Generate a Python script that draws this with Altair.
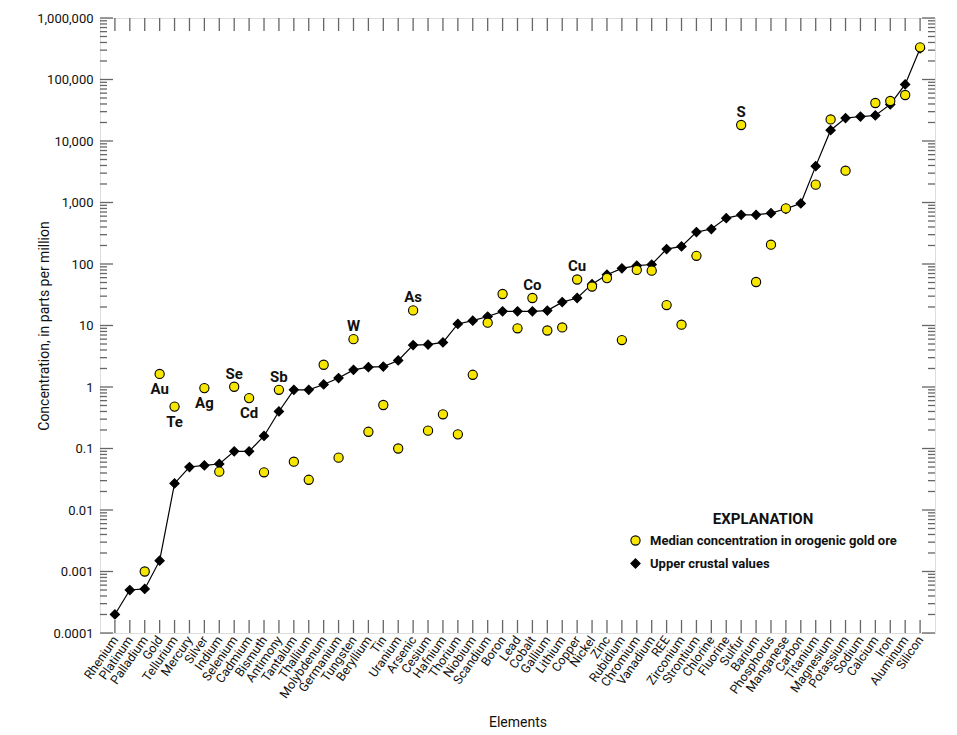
import altair as alt
import pandas as pd

elements = ["Rhenium", "Platinum", "Palladium", "Gold", "Tellurium", "Mercury", "Silver", "Indium",
            "Selenium", "Cadmium", "Bismuth", "Antimony", "Tantalum", "Thallium", "Molybdenum",
            "Germanium", "Tungsten", "Beryllium", "Tin", "Uranium", "Arsenic", "Cesium", "Hafnium",
            "Thorium", "Niobium", "Scandium", "Boron", "Lead", "Cobalt", "Gallium", "Lithium",
            "Copper", "Nickel", "Zinc", "Rubidium", "Chromium", "Vanadium", "REE", "Zirconium",
            "Strontium", "Chlorine", "Fluorine", "Sulfur", "Barium", "Phosphorus", "Manganese",
            "Carbon", "Titanium", "Magnesium", "Potassium", "Sodium", "Calcium", "Iron",
            "Aluminum", "Silicon"]

crust = [0.0002, 0.0005, 0.00052, 0.0015, 0.027, 0.05, 0.053, 0.056, 0.09, 0.09, 0.16, 0.4,
         0.9, 0.9, 1.1, 1.4, 1.9, 2.1, 2.15, 2.7, 4.8, 4.9, 5.3, 10.6, 12, 14, 17, 17, 17, 17.5,
         24, 28, 47, 67, 85, 94, 98, 175, 193, 330, 370, 557, 630, 630, 670, 790, 966, 3900,
         15000, 23600, 25000, 26000, 39400, 83000, 320000]

ore = [None, None, 0.001, 1.63, 0.48, None, 0.96, 0.042, 1.01, 0.66, 0.041, 0.9, 0.061, 0.031,
       2.3, 0.071, 6.0, 0.187, 0.51, 0.10, 17.6, 0.195, 0.36, 0.17, 1.58, 11.1, 32.5, 9.0, 28,
       8.3, 9.3, 56, 43, 59, 5.8, 80, 78, 21.5, 10.3, 136, None, None, 18200, 51, 206, 802,
       None, 1950, 22400, 3290, None, 41500, 44700, 56000, 333000]

label_elements = ["Gold", "Tellurium", "Silver", "Selenium", "Cadmium", "Antimony", "Tungsten",
                  "Arsenic", "Cobalt", "Copper", "Sulfur"]
label_texts = ["Au", "Te", "Ag", "Se", "Cd", "Sb", "W", "As", "Co", "Cu", "S"]
labels_below = ["Au", "Te", "Ag", "Cd"]

major_ticks = [0.0001, 0.001, 0.01, 0.1, 1, 10, 100, 1000, 10000, 100000, 1000000]
minor_ticks = [m * t for t in major_ticks[:-1] for m in range(2, 10)]

SER_ORE = "Median concentration in orogenic gold ore"
SER_CRUST = "Upper crustal values"

FONT = "Roboto, Liberation Sans, sans-serif"
YELLOW = "#F7E600"
AX = "#666666"

W, H = 835, 615

crust_df = pd.DataFrame({"Element": elements, "Value": crust, "Series": SER_CRUST})
ore_df = pd.DataFrame({"Element": elements, "Value": ore, "Series": SER_ORE}).dropna()
pts_df = pd.concat([crust_df, ore_df], ignore_index=True)

ore_map = dict(zip(elements, ore))
lab_df = pd.DataFrame({"Element": label_elements, "Label": label_texts,
                       "Value": [ore_map[e] for e in label_elements]})
lab_df["Below"] = lab_df["Label"].isin(labels_below)

xscale = alt.Scale(type="point", domain=elements, padding=1)
yscale = alt.Scale(type="log", domain=[0.0001, 1000000])

xenc = alt.X("Element:N", scale=xscale, sort=elements,
             axis=alt.Axis(title="Elements", ticks=False, domain=False, grid=False,
                           labelAngle=305, labelAlign="right", labelBaseline="middle",
                           labelPadding=4, labelFont=FONT, labelFontSize=12.5,
                           labelColor="#111", titleFont=FONT, titleFontSize=14,
                           titleFontWeight="normal", titleColor="#111",
                           titleY=89, titleX=W / 2, titleBaseline="middle"))
yenc = alt.Y("Value:Q", scale=yscale,
             axis=alt.Axis(title="Concentration, in parts per million", values=major_ticks,
                           labelExpr="datum.value >= 1 ? format(datum.value, ',.0f') : format(datum.value, '.4~f')",
                           ticks=False, domain=False, grid=False, labelPadding=7,
                           labelFont=FONT, labelFontSize=13, labelColor="#111",
                           titleFont=FONT, titleFontSize=14, titleFontWeight="normal",
                           titleColor="#111", titleAngle=270, titleX=-56, titleY=H / 2,
                           titleAlign="center", titleBaseline="middle"))

line = alt.Chart(crust_df).mark_line(color="black", strokeWidth=1.2).encode(x=xenc, y=yenc)

legend = alt.Legend(title="EXPLANATION", orient="none", legendX=529, legendY=494,
                    titleFont=FONT, titleFontSize=15, titleFontWeight="bold",
                    titleAnchor="middle", titleAlign="center", titleColor="#111",
                    titlePadding=7, labelFont=FONT, labelFontSize=13, labelFontWeight="bold",
                    labelColor="#111", labelLimit=0, symbolSize=85, rowPadding=8,
                    symbolStrokeWidth=1.1, labelOffset=8)
ser_domain = [SER_ORE, SER_CRUST]

points = alt.Chart(pts_df).mark_point(filled=True, strokeWidth=1.1, opacity=1, size=85).encode(
    x=alt.X("Element:N", scale=xscale, sort=elements),
    y=alt.Y("Value:Q", scale=yscale),
    shape=alt.Shape("Series:N", scale=alt.Scale(domain=ser_domain, range=["circle", "diamond"]),
                    legend=legend),
    fill=alt.Fill("Series:N", scale=alt.Scale(domain=ser_domain, range=[YELLOW, "black"]),
                  legend=legend),
    stroke=alt.Stroke("Series:N", scale=alt.Scale(domain=ser_domain, range=["black", "black"]),
                      legend=legend),
)

above = alt.Chart(lab_df).transform_filter("!datum.Below").mark_text(
    font=FONT, fontSize=15, fontWeight="bold", color="#111", dy=-13, baseline="middle"
).encode(x=alt.X("Element:N", scale=xscale, sort=elements),
         y=alt.Y("Value:Q", scale=yscale), text="Label:N")
below = alt.Chart(lab_df).transform_filter("datum.Below").mark_text(
    font=FONT, fontSize=15, fontWeight="bold", color="#111", dy=15, baseline="middle"
).encode(x=alt.X("Element:N", scale=xscale, sort=elements),
         y=alt.Y("Value:Q", scale=yscale), text="Label:N")

maj_df = pd.DataFrame({"Value": major_ticks})
min_df = pd.DataFrame({"Value": minor_ticks})
el_df = pd.DataFrame({"Element": elements})

def yticks(df, x0, x1):
    return alt.Chart(df).mark_rule(color=AX, strokeWidth=1.3).encode(
        y=alt.Y("Value:Q", scale=yscale), x=alt.value(x0), x2=alt.value(x1))

def xticks(y0, y1):
    return alt.Chart(el_df).mark_rule(color=AX, strokeWidth=1.3).encode(
        x=alt.X("Element:N", scale=xscale, sort=elements), y=alt.value(y0), y2=alt.value(y1))

ticks = [yticks(maj_df, 0, 13), yticks(min_df, 0, 7), yticks(maj_df, W, W - 13),
         yticks(min_df, W, W - 7), xticks(H, H - 13), xticks(0, 13)]

chart = alt.layer(line, *ticks, points, above, below).properties(
    width=W, height=H,
    autosize=alt.AutoSizeParams(type="none"),
    padding={"left": 92, "top": 10, "right": 10, "bottom": 100},
).configure_view(stroke=AX, strokeWidth=1.5).configure(background="white")

chart.save("out.html", embed_options={"renderer": "svg", "actions": False})
